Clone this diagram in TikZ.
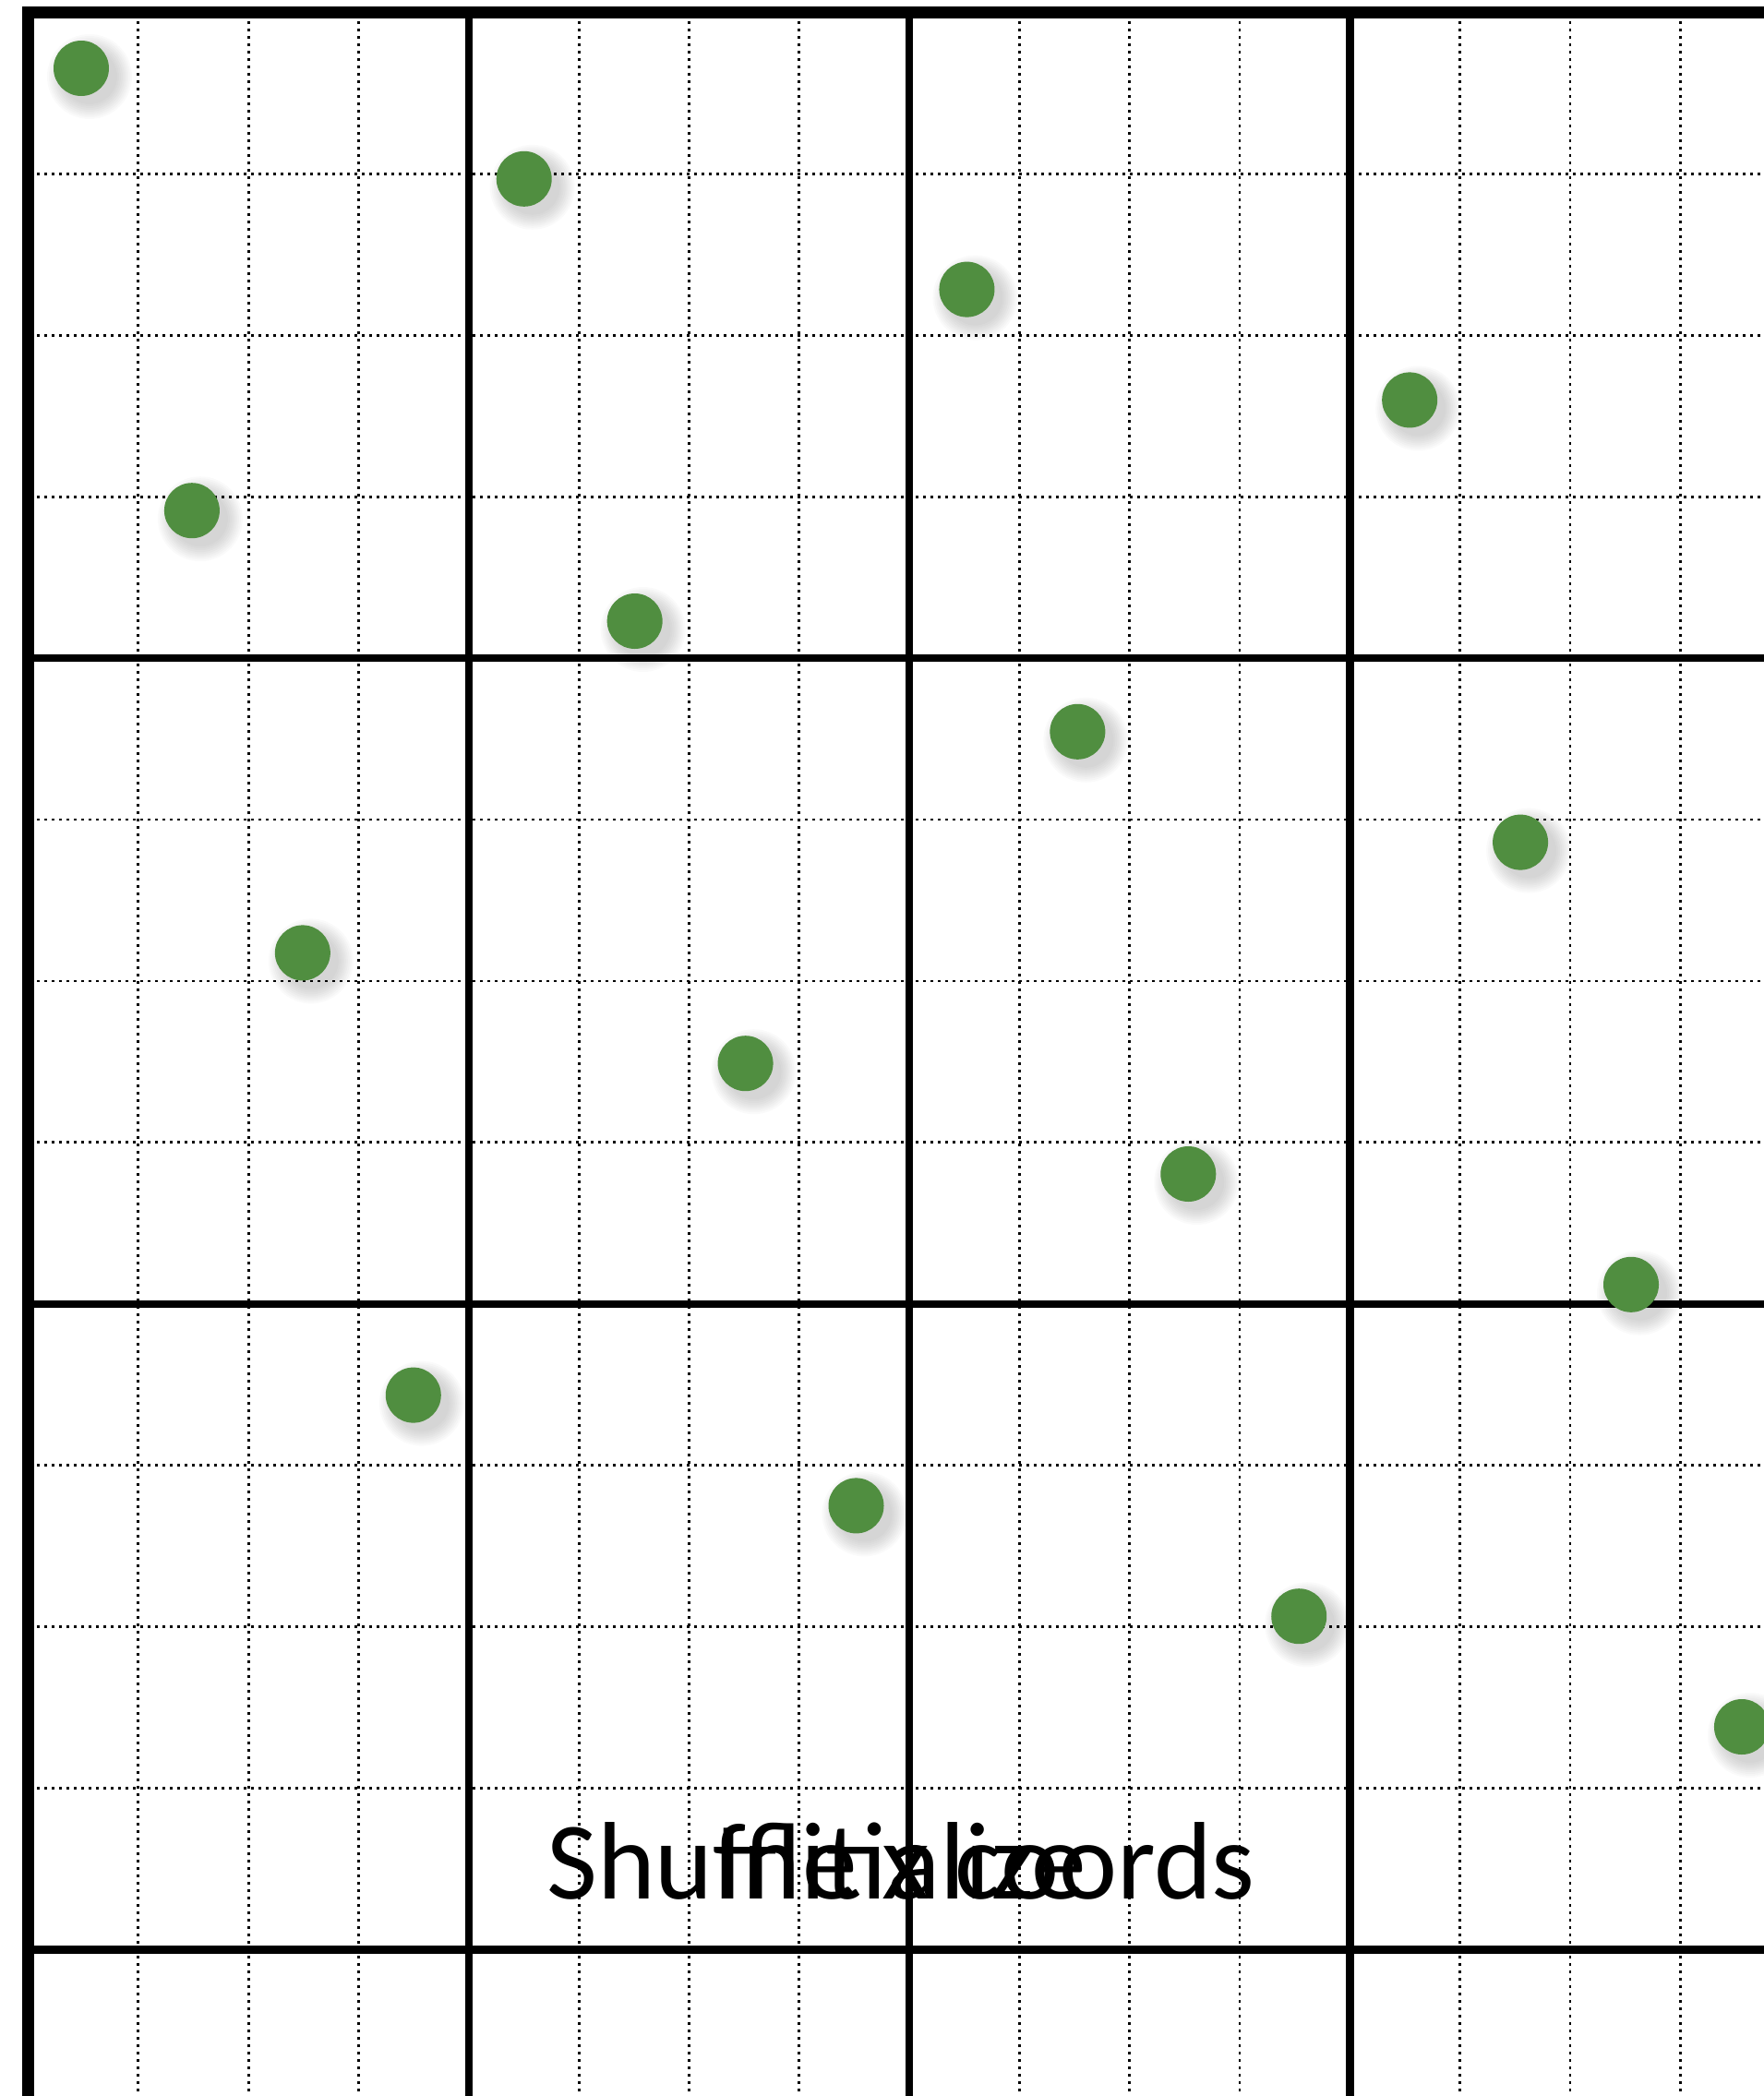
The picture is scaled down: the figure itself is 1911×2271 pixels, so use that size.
\documentclass[tikz,border=0pt]{standalone}
\usepackage{fontspec}
\newfontfamily\captionfont{Carlito}
\usetikzlibrary{positioning}
\definecolor{dotgreen}{RGB}{80,142,64}

\begin{document}
\begin{tikzpicture}[
  x=1pt, y=-1pt,
  border/.style={line width=13pt, line join=miter},
  major/.style={line width=8.5pt},
  minor/.style={line width=2.8pt, dash pattern=on 2.8pt off 5.2pt},
  pt/.style={circle, fill=dotgreen, minimum size=60pt, inner sep=0pt},
  caption/.style={font=\captionfont\fontsize{119.5}{140}\selectfont, anchor=base, inner sep=0pt}
]
\useasboundingbox (0,0) rectangle (1911,2271);
\clip (0,0) rectangle (1911,2271);
% fine grid
\foreach \m in {1,...,16} \draw[minor] (30.5+119.325*\m,7) -- (30.5+119.325*\m,2271);
\foreach \m in {1,...,13} \draw[minor] (24,13.5+174.9*\m) -- (1911,13.5+174.9*\m);
% coarse grid
\foreach \m in {1,2,3} \draw[major] (30.5+477.3*\m,7) -- (30.5+477.3*\m,2271);
\foreach \m in {1,2,3} \draw[major] (24,13.5+699.7*\m) -- (1911,13.5+699.7*\m);
\draw[border] (30.5,2271) -- (30.5,13.5) -- (1911,13.5);
% points
\foreach \a in {0,...,3}{\foreach \b in {0,...,3}{
  \pgfmathsetmacro\px{88+119.93*(4*\a+\b)}
  \pgfmathsetmacro\py{74+119.8*(4*\b+\a)}
  \foreach \r in {30,32,...,46} \fill[black, opacity=0.02] (\px+9,\py+9) circle[radius=\r];
  \node[pt] (p\a\b) at (\px,\py) {};
}}
% overlapping labels
\node[caption] (shuffle) at (976,2057) {Shuffle x coords};
\node[caption] (init) at (976,2057) {Initialize};
\end{tikzpicture}
\end{document}
